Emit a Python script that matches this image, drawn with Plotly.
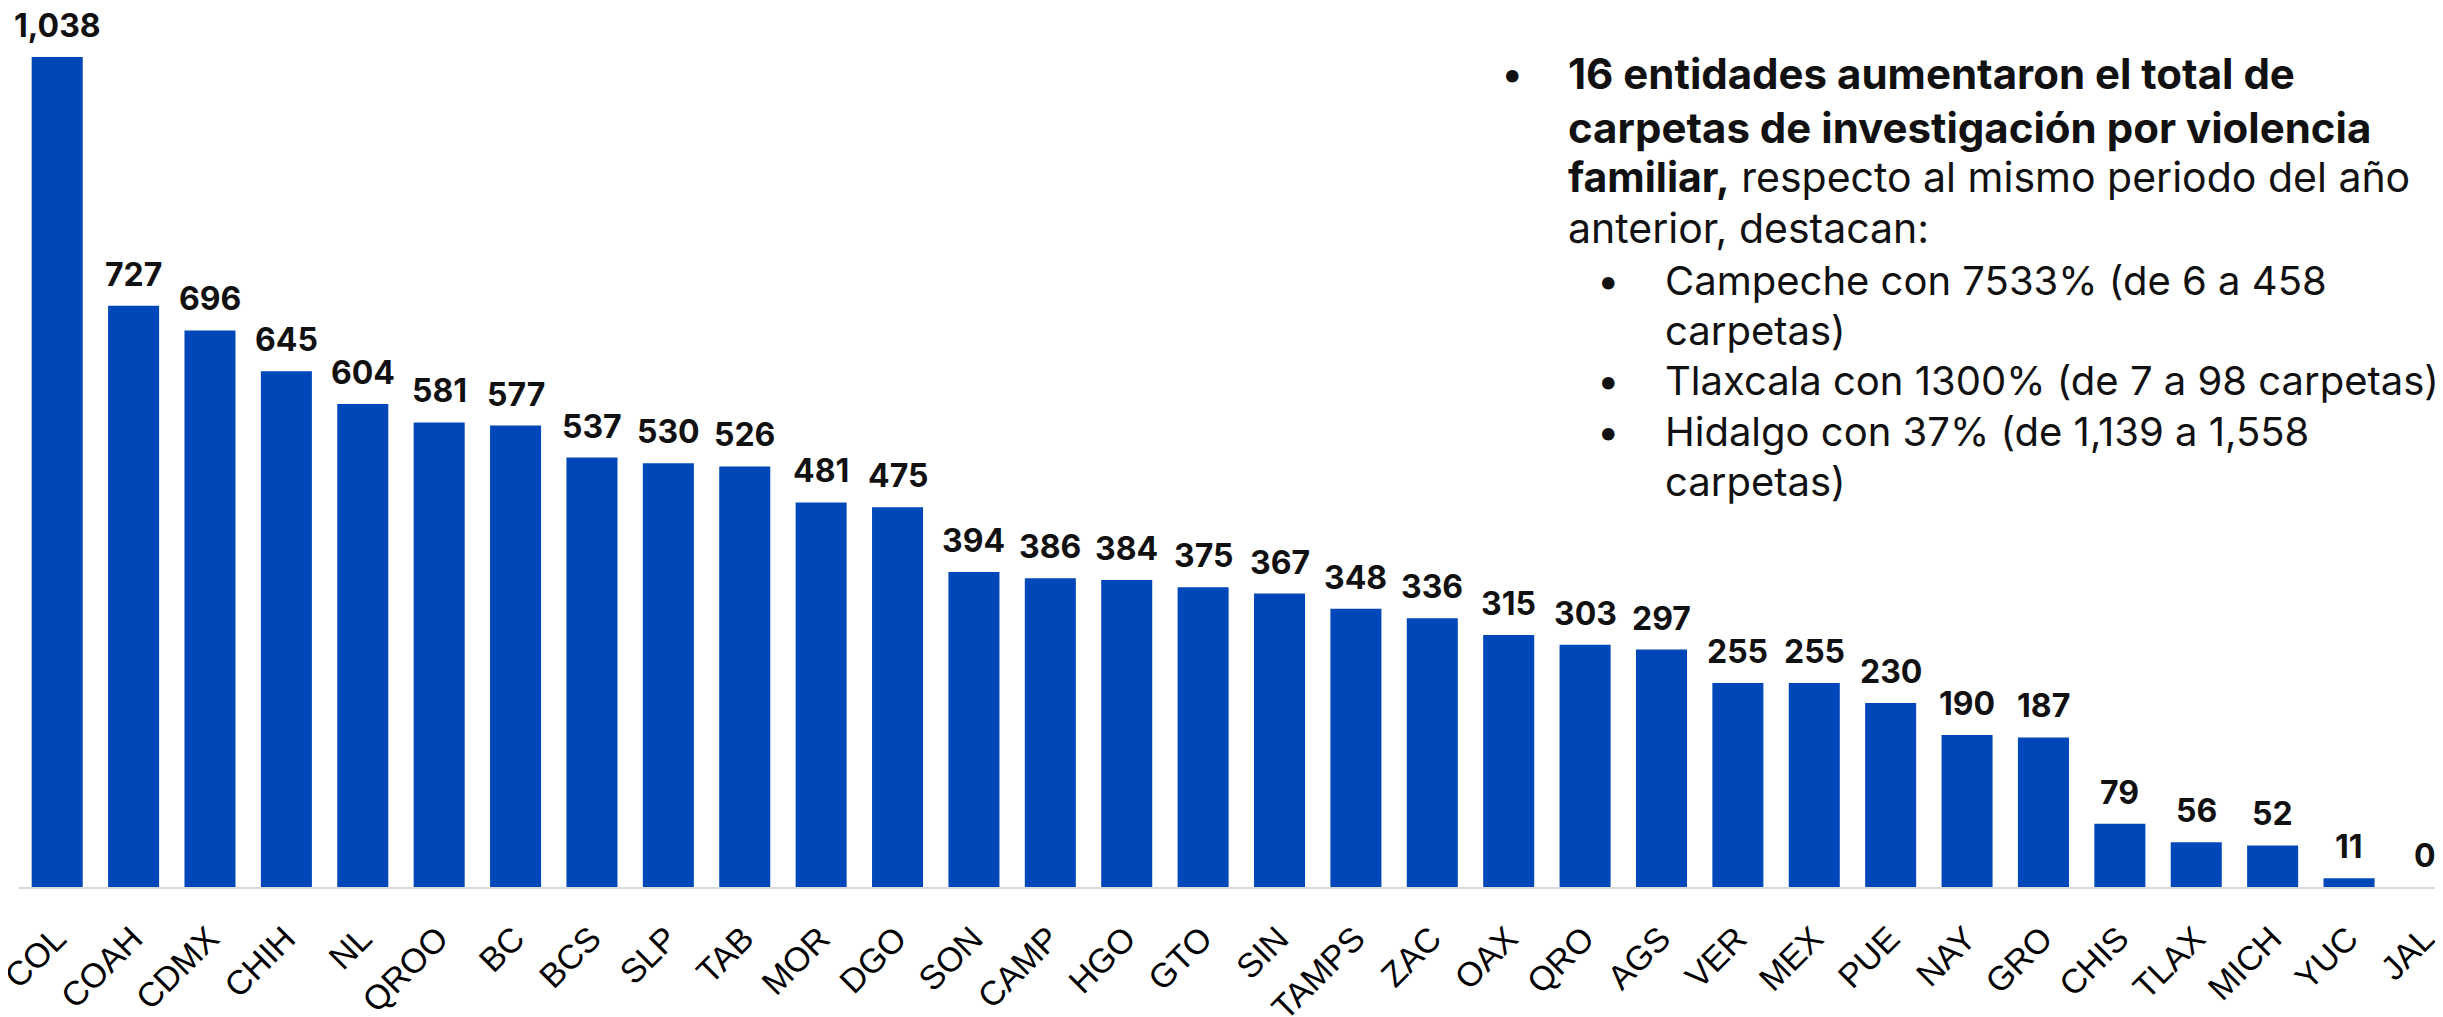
import plotly.graph_objects as go

estados = ["COL", "COAH", "CDMX", "CHIH", "NL", "QROO", "BC", "BCS", "SLP", "TAB",
           "MOR", "DGO", "SON", "CAMP", "HGO", "GTO", "SIN", "TAMPS", "ZAC", "OAX",
           "QRO", "AGS", "VER", "MEX", "PUE", "NAY", "GRO", "CHIS", "TLAX", "MICH",
           "YUC", "JAL"]
valores = [1038, 727, 696, 645, 604, 581, 577, 537, 530, 526,
           481, 475, 394, 386, 384, 375, 367, 348, 336, 315,
           303, 297, 255, 255, 230, 190, 187, 79, 56, 52,
           11, 0]

texto_lineas = [
    (0, "<b>16 entidades aumentaron el total de</b>"),
    (0, "<b>carpetas de investigación por violencia</b>"),
    (0, "<b>familiar,</b> respecto al mismo periodo del año"),
    (0, "anterior, destacan:"),
    (1, "Campeche con 7533% (de 6 a 458"),
    (1, "carpetas)"),
    (1, "Tlaxcala con 1300% (de 7 a 98 carpetas)"),
    (1, "Hidalgo con 37% (de 1,139 a 1,558"),
    (1, "carpetas)"),
]
bullet_flags = [True, False, False, False, True, False, True, True, False]
line_sizes = [42, 42, 41, 41, 40, 40, 40, 40, 40]

# The page body adds an 8px offset; screen coords are compensated
OFF = 8
W, H = 2443 - OFF, 1017 - OFF
L, R, T, B = 19 - OFF, 0, 57 - OFF, 1017 - 887
PW = W - L - R
PH = H - T - B

def px_x(px):
    return (px - OFF - L) / PW

def px_y(py):
    return (H - B - (py - OFF)) / PH

BAR_COLOR = "#0048BA"

fig = go.Figure()
fig.add_trace(go.Bar(
    x=estados, y=valores,
    marker=dict(color=BAR_COLOR, line=dict(width=0)),
    hoverinfo="skip",
))

annotations = []
for e, v in zip(estados, valores):
    annotations.append(dict(
        x=e, y=v, xref="x", yref="y",
        text=f"<b>{v:,}</b>", showarrow=False,
        yanchor="bottom", xanchor="center", yshift=10,
        font=dict(family="Inter", size=32, color="#111111"),
    ))

line_y = [74, 127, 177, 228, 280, 330, 381, 431, 482]
for (lvl, txt), flag, yy, fs in zip(texto_lineas, bullet_flags, line_y, line_sizes):
    tx = 1566 if lvl == 0 else 1663
    bx = 1512 if lvl == 0 else 1608
    annotations.append(dict(
        x=px_x(tx), y=px_y(yy), xref="paper", yref="paper",
        text=txt, showarrow=False, xanchor="left", yanchor="middle",
        font=dict(family="Inter", size=fs, color="#111111"),
    ))
    if flag:
        annotations.append(dict(
            x=px_x(bx), y=px_y(yy), xref="paper", yref="paper",
            text="•", showarrow=False, xanchor="center", yanchor="middle",
            font=dict(family="Inter", size=40, color="#111111"),
        ))

fig.update_layout(
    width=W, height=H,
    margin=dict(l=L, r=R, t=T, b=B, pad=0, autoexpand=False),
    paper_bgcolor="white", plot_bgcolor="white",
    bargap=0.332,
    showlegend=False,
    annotations=annotations,
    xaxis=dict(
        range=[-0.5, 31.23],
        automargin=False,
        showline=True, linecolor="#d9d9d9", linewidth=2,
        showgrid=False, zeroline=False,
        tickangle=-45,
        tickfont=dict(family="Liberation Sans", size=34, color="black"),
        ticks="outside", ticklen=16, tickcolor="rgba(0,0,0,0)",
        ticklabelshift=-1,
    ),
    yaxis=dict(
        range=[0, 1038], visible=False, showgrid=False, zeroline=False,
        automargin=False,
    ),
)

fig.write_html("out.html")
